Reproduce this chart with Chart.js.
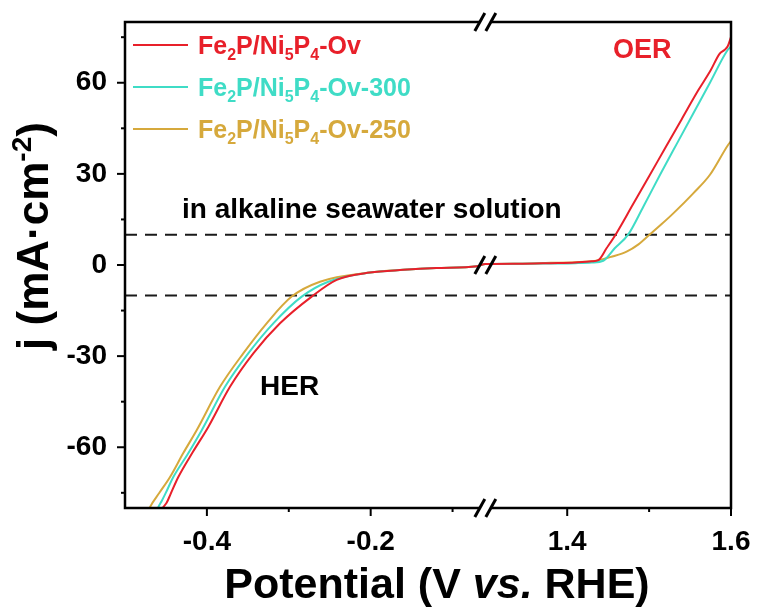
<!DOCTYPE html>
<html lang="en">
  <head>
    <meta charset="UTF-8" />
    <title>LSV HER / OER</title>
    <script src="https://cdn.jsdelivr.net/npm/chart.js@4"></script>
    <style>
      body {
        margin: 0;
        background: #fff;
      }
    </style>
  </head>
  <body>
    <canvas id="grafico" width="757" height="608"></canvas>

    <script>
      // potential (V vs RHE) and current density j (mA/cm2)
      const redX = [-0.458, -0.4532, -0.449, -0.4445, -0.4349, -0.417, -0.3983, -0.3718, -0.3433, -0.3107, -0.272, -0.2415, -0.2009, -0.16, -0.12, -0.07,
        1.3, 1.34, 1.38, 1.41, 1.43, 1.438, 1.448, 1.46, 1.48, 1.5, 1.52, 1.54, 1.56, 1.575, 1.586, 1.592, 1.596, 1.6]
      const redJ = [-82, -79.7, -78.2, -75.5, -69.8, -61.5, -53.3, -40.1, -29.1, -19.2, -10.4, -4.9, -2.5, -1.6, -1.0, -0.4,
        0.3, 0.4, 0.6, 0.8, 1.2, 1.6, 5.5, 10.4, 19.8, 29.2, 38.7, 48.1, 57.5, 64.0, 69.5, 70.8, 72, 75]

      const cyanX = [-0.463, -0.4593, -0.455, -0.4505, -0.441, -0.4235, -0.4063, -0.3779, -0.3495, -0.3189, -0.2842, -0.2518, -0.2009, -0.16, -0.12, -0.07,
        1.3, 1.34, 1.38, 1.41, 1.43, 1.444, 1.458, 1.4746, 1.4929, 1.5132, 1.5336, 1.5539, 1.5743, 1.5947, 1.6]
      const cyanJ = [-82, -79.7, -77.6, -75.2, -69.8, -62.3, -54.4, -40.1, -29.1, -19.2, -10.4, -5.5, -2.5, -1.6, -1.0, -0.4,
        0.3, 0.4, 0.5, 0.6, 0.8, 1.4, 5.5, 10.1, 19.2, 29.6, 39.8, 49.9, 60.0, 70.3, 72]

      const goldX = [-0.473, -0.4695, -0.458, -0.445, -0.429, -0.4125, -0.384, -0.3556, -0.327, -0.2965, -0.2619, -0.2009, -0.16, -0.12, -0.07,
        1.3, 1.34, 1.38, 1.41, 1.435, 1.455, 1.4725, 1.487, 1.501, 1.515, 1.5295, 1.5539, 1.5743, 1.5966, 1.6]
      const goldJ = [-82, -79.7, -75.0, -69.8, -62.0, -54.4, -40.1, -29.1, -19.2, -10.4, -5.5, -2.5, -1.6, -1.0, -0.4,
        0.3, 0.45, 0.7, 0.9, 1.4, 2.8, 4.4, 6.8, 10.1, 13.4, 17.0, 23.6, 29.7, 39.6, 40.8]

      // dashed lines at +10 and -10 mA/cm2
      const refX = [-0.5, 1.6]
      const refJ = [10, -10]

      const seriesNames = ['Fe_2P/Ni_5P_4-Ov', 'Fe_2P/Ni_5P_4-Ov-300', 'Fe_2P/Ni_5P_4-Ov-250']
      const seriesColors = ['#e8202a', '#3fdcc6', '#d6a93c']

      const xTicks = [-0.4, -0.2, 1.4, 1.6]
      const xMinor = [-0.3, -0.1, 1.5]
      const yTicks = [-60, -30, 0, 30, 60]
      const yMinor = [-75, -45, -15, 15, 45, 75]

      // broken x axis: [-0.5, -0.06] then [1.3, 1.6]
      const leftEnd = -0.06
      const rightStart = 1.3
      const gap = rightStart - leftEnd

      function toAxis(v) {
        return v <= leftEnd ? v : v - gap
      }
      function fromAxis(u) {
        return u <= leftEnd + 1e-9 ? u : u + gap
      }

      function pontos(xs, ys) {
        return xs.map((v, i) => ({ x: toAxis(v), y: ys[i] }))
      }

      const FAM = '"Liberation Sans", Arial, sans-serif'
      function fonte(tam, it) {
        return (it ? 'italic ' : '') + 'bold ' + tam + 'px ' + FAM
      }

      // text made of runs (for subscripts, superscripts, italics)
      function escreve(ctx, partes, x, y, align, cor) {
        let w = 0
        partes.forEach(p => {
          ctx.font = fonte(p.s, p.it)
          w += ctx.measureText(p.t).width
        })
        let cx = align === 'center' ? x - w / 2 : x
        ctx.fillStyle = cor
        ctx.textAlign = 'left'
        ctx.textBaseline = 'alphabetic'
        partes.forEach(p => {
          ctx.font = fonte(p.s, p.it)
          ctx.fillText(p.t, cx, y + (p.dy || 0))
          cx += ctx.measureText(p.t).width
        })
      }

      // 'Fe_2P' -> runs with subscript 2
      function comIndices(txt, tam) {
        const partes = []
        let atual = ''
        for (let i = 0; i < txt.length; i++) {
          if (txt[i] === '_') {
            if (atual) partes.push({ t: atual, s: tam })
            partes.push({ t: txt[i + 1], s: 16, dy: 6 })
            atual = ''
            i++
          } else {
            atual += txt[i]
          }
        }
        if (atual) partes.push({ t: atual, s: tam })
        return partes
      }

      function linha(ctx, x1, y1, x2, y2) {
        ctx.beginPath()
        ctx.moveTo(x1, y1)
        ctx.lineTo(x2, y2)
        ctx.stroke()
      }

      function quebra(ctx, bx, by, apaga) {
        const d = 5.5
        if (apaga) {
          ctx.fillStyle = '#fff'
          ctx.beginPath()
          ctx.moveTo(bx - d - 2, by + 3)
          ctx.lineTo(bx - d + 2, by - 3)
          ctx.lineTo(bx + d + 2, by - 3)
          ctx.lineTo(bx + d - 2, by + 3)
          ctx.closePath()
          ctx.fill()
        }
        ctx.lineWidth = 3
        ctx.strokeStyle = '#000'
        linha(ctx, bx - d - 5, by + 9, bx - d + 5, by - 9)
        linha(ctx, bx + d - 5, by + 9, bx + d + 5, by - 9)
      }

      const moldura = {
        id: 'moldura',
        afterDraw(chart) {
          const { ctx, chartArea: a } = chart
          const sx = chart.scales.x
          const sy = chart.scales.y
          ctx.save()
          ctx.strokeStyle = '#000'
          ctx.lineWidth = 2.5
          ctx.strokeRect(a.left, a.top, a.right - a.left, a.bottom - a.top)

          ctx.lineWidth = 2
          xTicks.forEach(v => {
            const px = sx.getPixelForValue(toAxis(v))
            linha(ctx, px, a.bottom, px, a.bottom + 8)
          })
          xMinor.forEach(v => {
            const px = sx.getPixelForValue(toAxis(v))
            linha(ctx, px, a.bottom, px, a.bottom + 4)
          })
          yTicks.forEach(v => {
            const py = sy.getPixelForValue(v)
            linha(ctx, a.left - 8, py, a.left, py)
          })
          yMinor.forEach(v => {
            const py = sy.getPixelForValue(v)
            linha(ctx, a.left - 4, py, a.left, py)
          })

          const bx = sx.getPixelForValue(leftEnd)
          quebra(ctx, bx, a.top, true)
          quebra(ctx, bx, a.bottom, true)
          quebra(ctx, bx, sy.getPixelForValue(0), false)

          // legend
          seriesNames.forEach((nome, i) => {
            const ly = 45 + i * 42
            ctx.strokeStyle = seriesColors[i]
            ctx.lineWidth = 2
            linha(ctx, 133, ly, 188, ly)
            escreve(ctx, comIndices(nome, 25), 198, ly + 8.5, 'left', seriesColors[i])
          })

          escreve(ctx, [{ t: 'OER', s: 27 }], 613, 58, 'left', seriesColors[0])
          escreve(ctx, [{ t: 'HER', s: 28 }], 260, 395, 'left', '#000')
          escreve(ctx, [{ t: 'in alkaline seawater solution', s: 28 }], 182, 218, 'left', '#000')

          escreve(
            ctx,
            [{ t: 'Potential (V ', s: 43 }, { t: 'vs.', s: 43, it: true }, { t: ' RHE)', s: 43 }],
            437, 598, 'center', '#000'
          )

          ctx.translate(48, 236)
          ctx.rotate(-Math.PI / 2)
          escreve(
            ctx,
            [{ t: 'j (mA·cm', s: 44 }, { t: '-2', s: 28, dy: -17 }, { t: ')', s: 44 }],
            0, 0, 'center', '#000'
          )
          ctx.restore()
        }
      }

      const curvas = [
        [redX, redJ],
        [cyanX, cyanJ],
        [goldX, goldJ]
      ].map(([xs, ys], i) => ({
        label: seriesNames[i],
        data: pontos(xs, ys),
        borderColor: seriesColors[i],
        borderWidth: 2,
        pointRadius: 0,
        fill: false,
        cubicInterpolationMode: 'monotone'
      }))

      const tracejadas = refJ.map(j => ({
        label: 'ref ' + j,
        data: pontos(refX, [j, j]),
        borderColor: '#1a1a1a',
        borderWidth: 2,
        borderDash: [12, 8],
        pointRadius: 0,
        fill: false
      }))

      const fonteTick = { family: FAM, size: 28, weight: 'bold' }

      new Chart(document.getElementById('grafico'), {
        type: 'line',
        data: { datasets: [...curvas, ...tracejadas] },
        options: {
          responsive: false,
          animation: false,
          devicePixelRatio: 1,
          layout: { padding: { top: 22, right: 26, left: 0, bottom: 0 } },
          plugins: { legend: { display: false }, tooltip: { enabled: false } },
          scales: {
            x: {
              type: 'linear',
              min: toAxis(-0.5),
              max: toAxis(1.6),
              afterBuildTicks: s => {
                s.ticks = xTicks.map(v => ({ value: toAxis(v) }))
              },
              afterFit: s => {
                s.height = 100
                s.paddingLeft = 0
                s.paddingRight = 0
              },
              grid: { display: false, drawTicks: false },
              border: { display: false },
              ticks: {
                autoSkip: false,
                maxRotation: 0,
                padding: 17,
                color: '#000',
                font: fonteTick,
                callback: v => fromAxis(v).toFixed(1)
              }
            },
            y: {
              min: -80,
              max: 80,
              afterBuildTicks: s => {
                s.ticks = yTicks.map(v => ({ value: v }))
              },
              afterFit: s => {
                s.width = 125
                s.paddingTop = 0
                s.paddingBottom = 0
              },
              grid: { display: false, drawTicks: false },
              border: { display: false },
              ticks: {
                autoSkip: false,
                padding: 18,
                color: '#000',
                font: fonteTick,
                callback: v => String(v)
              }
            }
          }
        },
        plugins: [moldura]
      })
    </script>
  </body>
</html>
